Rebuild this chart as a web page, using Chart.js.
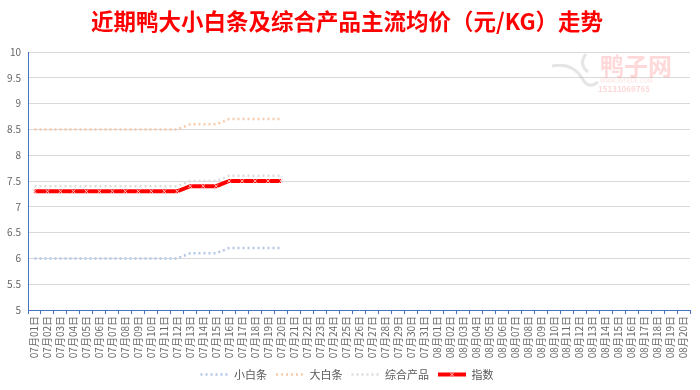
<!DOCTYPE html>
<html>
<head>
<meta charset="utf-8">
<script src="https://cdn.jsdelivr.net/npm/chart.js@4"></script>
<style>
  html, body { margin: 0; padding: 0; background: #fff; }
  #wrap { width: 700px; height: 390px; position: relative; }
</style>
</head>
<body>
<div id="wrap"><canvas id="priceChart"></canvas></div>
<script>
const categories = [
    "07月01日", "07月02日", "07月03日", "07月04日", "07月05日", "07月06日", "07月07日", "07月08日", "07月09日", "07月10日",
    "07月11日", "07月12日", "07月13日", "07月14日", "07月15日", "07月16日", "07月17日", "07月18日", "07月19日", "07月20日",
    "07月21日", "07月22日", "07月23日", "07月24日", "07月25日", "07月26日", "07月27日", "07月28日", "07月29日", "07月30日",
    "07月31日", "08月01日", "08月02日", "08月03日", "08月04日", "08月05日", "08月06日", "08月07日", "08月08日", "08月09日",
    "08月10日", "08月11日", "08月12日", "08月13日", "08月14日", "08月15日", "08月16日", "08月17日", "08月18日", "08月19日",
    "08月20日"
];

const smallWhite = [6.0, 6.0, 6.0, 6.0, 6.0, 6.0, 6.0, 6.0, 6.0, 6.0, 6.0, 6.0, 6.1, 6.1, 6.1, 6.2, 6.2, 6.2, 6.2, 6.2];
const bigWhite   = [8.5, 8.5, 8.5, 8.5, 8.5, 8.5, 8.5, 8.5, 8.5, 8.5, 8.5, 8.5, 8.6, 8.6, 8.6, 8.7, 8.7, 8.7, 8.7, 8.7];
const composite  = [7.4, 7.4, 7.4, 7.4, 7.4, 7.4, 7.4, 7.4, 7.4, 7.4, 7.4, 7.4, 7.5, 7.5, 7.5, 7.6, 7.6, 7.6, 7.6, 7.6];
const indexLine  = [7.3, 7.3, 7.3, 7.3, 7.3, 7.3, 7.3, 7.3, 7.3, 7.3, 7.3, 7.3, 7.4, 7.4, 7.4, 7.5, 7.5, 7.5, 7.5, 7.5];

const yTicks = [5, 5.5, 6, 6.5, 7, 7.5, 8, 8.5, 9, 9.5, 10];

const FONT = "'Noto Sans CJK SC', 'Noto Sans', sans-serif";
Chart.defaults.font.family = FONT;
Chart.defaults.color = '#595959';

// faint site watermark in the top right corner
const watermark = {
    id: 'watermark',
    afterDraw(chart) {
        const ctx = chart.ctx;
        ctx.save();
        ctx.textBaseline = 'middle';
        ctx.textAlign = 'left';
        ctx.fillStyle = 'rgba(255, 120, 120, 0.28)';
        ctx.font = "bold 24px " + FONT;
        ctx.fillText("鸭子网", 600, 66);
        ctx.font = "6px " + FONT;
        ctx.fillStyle = 'rgba(255, 120, 120, 0.22)';
        ctx.fillText("WWW.INTEDE.COM", 600, 81);
        ctx.font = "bold 8px " + FONT;
        ctx.fillStyle = 'rgba(255, 120, 120, 0.3)';
        ctx.fillText("15131069765", 598, 89);
        // rough duck swoosh
        ctx.strokeStyle = 'rgba(180, 180, 180, 0.35)';
        ctx.lineWidth = 3;
        ctx.beginPath();
        ctx.moveTo(552, 66);
        ctx.quadraticCurveTo(572, 62, 582, 78);
        ctx.quadraticCurveTo(588, 90, 598, 82);
        ctx.stroke();
        ctx.beginPath();
        ctx.moveTo(586, 54);
        ctx.quadraticCurveTo(578, 64, 588, 72);
        ctx.stroke();
        ctx.restore();
    }
};

// index legend sample carries a marker in its middle, like the line itself
const legendMarker = {
    id: 'legendMarker',
    afterDraw(chart) {
        const legend = chart.legend;
        if (!legend || !legend.legendHitBoxes) return;
        const box = legend.legendHitBoxes[3];
        if (!box) return;
        const ctx = chart.ctx;
        const cx = box.left + 14, cy = box.top + box.height / 2;
        ctx.save();
        ctx.strokeStyle = '#ffc0c0';
        ctx.lineWidth = 1;
        ctx.beginPath();
        ctx.moveTo(cx - 2, cy - 2); ctx.lineTo(cx + 2, cy + 2);
        ctx.moveTo(cx - 2, cy + 2); ctx.lineTo(cx + 2, cy - 2);
        ctx.stroke();
        ctx.restore();
    }
};

const ctx = document.getElementById('priceChart').getContext('2d');
new Chart(ctx, {
    type: 'line',
    data: {
        labels: categories,
        datasets: [
            {
                label: '小白条',
                data: smallWhite,
                borderColor: '#b4c7e7',
                borderWidth: 2.5,
                borderDash: [2, 3],
                pointRadius: 0,
                tension: 0
            },
            {
                label: '大白条',
                data: bigWhite,
                borderColor: '#f8cbad',
                borderWidth: 2.5,
                borderDash: [2, 3],
                pointRadius: 0,
                tension: 0
            },
            {
                label: '综合产品',
                data: composite,
                borderColor: '#dcdcdc',
                borderWidth: 2.5,
                borderDash: [2, 3],
                pointRadius: 0,
                tension: 0
            },
            {
                label: '指数',
                data: indexLine,
                borderColor: '#ff0000',
                borderWidth: 4,
                pointStyle: 'crossRot',
                pointRadius: 2.5,
                pointBorderColor: '#ffc0c0',
                pointBorderWidth: 1,
                tension: 0
            }
        ]
    },
    options: {
        responsive: true,
        maintainAspectRatio: false,
        animation: false,
        layout: { padding: { left: 4, right: 10, top: 0, bottom: 0 } },
        scales: {
            x: {
                offset: true,
                grid: {
                    offset: true,
                    drawOnChartArea: false,
                    drawTicks: true,
                    tickLength: 4,
                    color: '#4472c4'
                },
                border: { color: '#4472c4', width: 1 },
                ticks: {
                    autoSkip: false,
                    maxRotation: 90,
                    minRotation: 90,
                    padding: 2,
                    font: { size: 10 },
                    color: '#666666'
                },
                afterFit(scale) { scale.height = 50; }
            },
            y: {
                min: 5,
                max: 10,
                afterBuildTicks(scale) { scale.ticks = yTicks.map(v => ({ value: v })); },
                grid: { color: '#d9d9d9', drawTicks: false },
                border: { color: '#4472c4', width: 1 },
                ticks: {
                    padding: 7,
                    font: { size: 10 },
                    color: '#666666',
                    callback: v => String(v)
                },
                afterFit(scale) { scale.width = 24; }
            }
        },
        plugins: {
            title: {
                display: true,
                text: '近期鸭大小白条及综合产品主流均价（元/KG）走势',
                color: '#ff0000',
                font: { size: 22.5, weight: 'bold' },
                padding: { top: 8, bottom: 17 }
            },
            legend: {
                position: 'bottom',
                labels: {
                    usePointStyle: true,
                    pointStyleWidth: 28,
                    boxHeight: 10,
                    padding: 9,
                    color: '#595959',
                    font: { size: 11 },
                    generateLabels(chart) {
                        return chart.data.datasets.map((ds, i) => ({
                            text: ds.label,
                            datasetIndex: i,
                            pointStyle: 'line',
                            strokeStyle: ds.borderColor,
                            fillStyle: ds.borderColor,
                            lineWidth: ds.borderWidth,
                            lineDash: ds.borderDash || [],
                            fontColor: '#595959',
                            hidden: false
                        }));
                    }
                }
            },
            tooltip: { enabled: false }
        }
    },
    plugins: [watermark, legendMarker]
});
</script>
</body>
</html>
